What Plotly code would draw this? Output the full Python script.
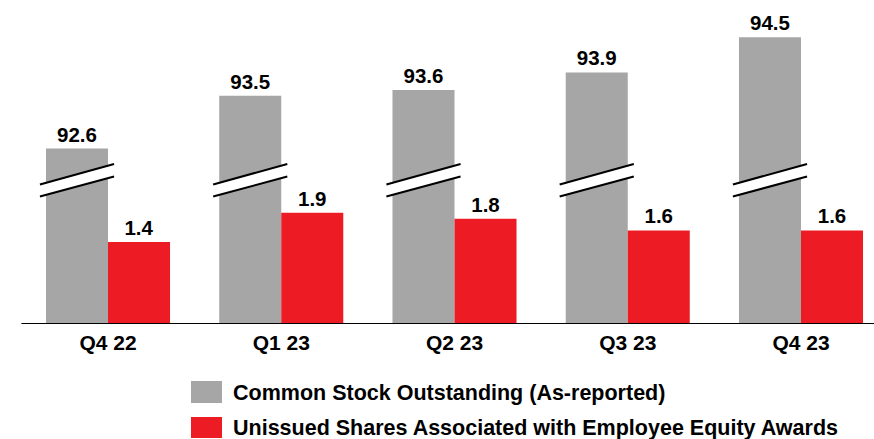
import plotly.graph_objects as go

# Quarterly share counts (millions)
quarters = ["Q4 22", "Q1 23", "Q2 23", "Q3 23", "Q4 23"]
common_stock = [92.6, 93.5, 93.6, 93.9, 94.5]
unissued_awards = [1.4, 1.9, 1.8, 1.6, 1.6]
series_names = [
    "Common Stock Outstanding (As-reported)",
    "Unissued Shares Associated with Employee Equity Awards",
]
GRAY = "#A6A6A6"
RED = "#ED1C24"
FONT = "Liberation Sans, Arial, sans-serif"

# The common-stock bars sit on a broken axis: the hidden part of each bar
AXIS_BREAK = 89.6
common_shown = [v - AXIS_BREAK for v in common_stock]

W, H = 874, 439
PLOT_H = 324            # pixel height of the plotting area (baseline at its bottom)
PX_PER_UNIT = 58.5
X_LEFT = -0.6234
X_RIGHT = 4.4214

fig = go.Figure()
fig.add_trace(go.Bar(
    x=quarters, y=common_shown, name=series_names[0],
    marker=dict(color=GRAY, line=dict(width=0)),
    customdata=common_stock, texttemplate="<b>%{customdata:.1f}</b>",
    textposition="outside", cliponaxis=False,
    textfont=dict(family=FONT, size=20.5, color="black"),
    showlegend=False,
))
fig.add_trace(go.Bar(
    x=quarters, y=unissued_awards, name=series_names[1],
    marker=dict(color=RED, line=dict(width=0)),
    texttemplate="<b>%{y:.1f}</b>",
    textposition="outside", cliponaxis=False,
    textfont=dict(family=FONT, size=20.5, color="black"),
    showlegend=False,
))

# Break marks across each common-stock bar
bar_w = 0.358
ext = 0.035
def py(p):
    return (PLOT_H - p) / PX_PER_UNIT

up_l, up_r = py(184.5), py(164.0)
lo_l, lo_r = py(196.5), py(176.5)
shapes = []
for i in range(len(quarters)):
    x0 = i - bar_w - ext
    x1 = i + ext
    shapes.append(dict(
        type="path", xref="x", yref="y",
        path=f"M {x0},{up_l} L {x1},{up_r} L {x1},{lo_r} L {x0},{lo_l} Z",
        fillcolor="white", line=dict(width=0), layer="above",
    ))
    for (yl, yr) in [(up_l, up_r), (lo_l, lo_r)]:
        shapes.append(dict(
            type="line", xref="x", yref="y", x0=x0, y0=yl, x1=x1, y1=yr,
            line=dict(color="black", width=2), layer="above",
        ))

# Baseline
shapes.append(dict(type="line", xref="x", yref="y", x0=-0.5, x1=X_RIGHT + 0.1,
                   y0=0, y1=0, line=dict(color="black", width=2), layer="above"))

# Legend drawn as swatches + labels
def pyp(p):
    return (PLOT_H - p) / PLOT_H

annotations = []
for (color, name, top, bot) in [(GRAY, series_names[0], 381, 403),
                                (RED, series_names[1], 417, 438)]:
    shapes.append(dict(type="rect", xref="paper", yref="paper",
                       x0=191 / W, x1=222 / W, y0=pyp(bot), y1=pyp(top),
                       fillcolor=color, line=dict(width=0)))
    annotations.append(dict(
        xref="paper", yref="paper", x=231 / W, y=pyp((top + bot) / 2 + 0.5),
        xanchor="left", yanchor="middle", showarrow=False, text=f"<b>{name}</b>",
        font=dict(family=FONT, size=21.5, color="black"),
    ))

fig.update_layout(
    width=W, height=H,
    margin=dict(l=0, r=0, t=0, b=H - PLOT_H),
    paper_bgcolor="white", plot_bgcolor="white",
    barmode="group", bargap=0.284, bargroupgap=0,
    showlegend=False,
    shapes=shapes, annotations=annotations,
    font=dict(family=FONT, color="black"),
    xaxis=dict(
        type="category", range=[X_LEFT, X_RIGHT], showgrid=False, zeroline=False,
        showline=False, ticks="", fixedrange=True, ticklabelstandoff=4,
        tickfont=dict(family=FONT, size=21, color="black"),
        tickvals=quarters, ticktext=[f"<b>{q}</b>" for q in quarters],
    ),
    yaxis=dict(
        range=[0, PLOT_H / PX_PER_UNIT], visible=False, showgrid=False,
        zeroline=False, fixedrange=True,
    ),
)

fig.write_html("out.html")
